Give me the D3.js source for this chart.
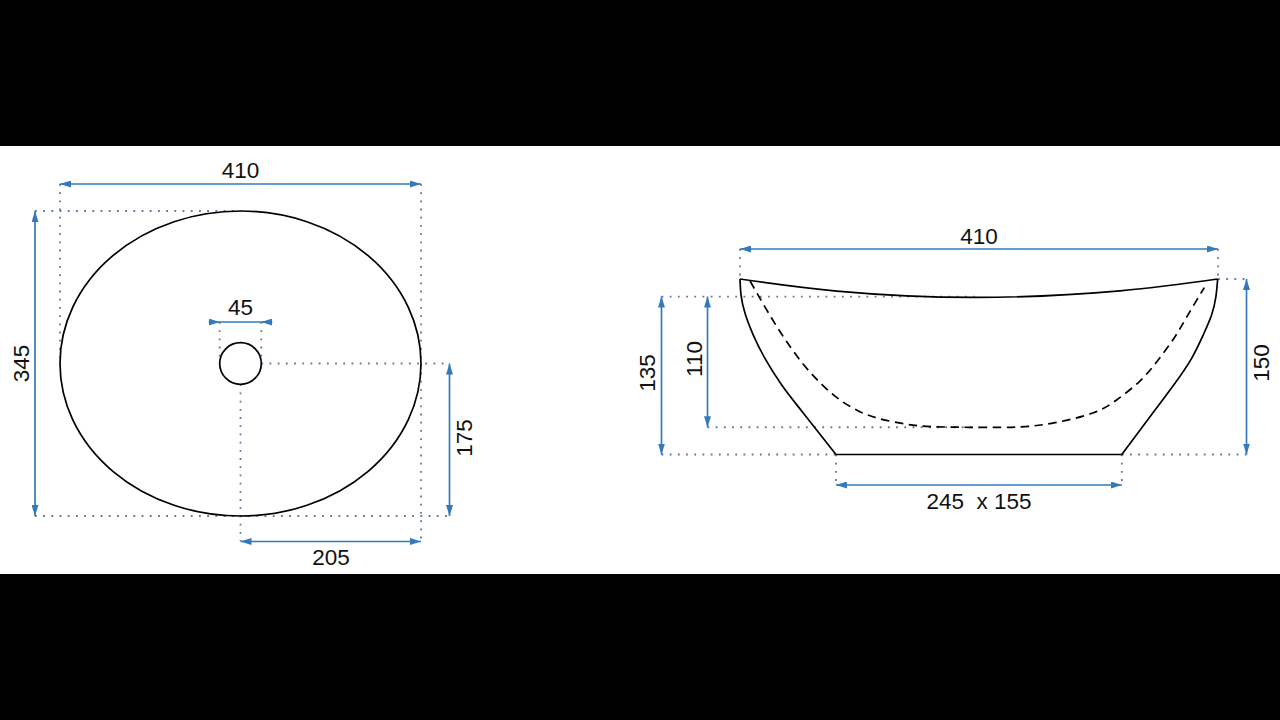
<!DOCTYPE html>
<html lang="en">
<head>
  <meta charset="UTF-8" />
  <title>Basin dimensions</title>
  <script src="https://cdnjs.cloudflare.com/ajax/libs/d3/7.9.0/d3.min.js"></script>
  <style>
    html, body { margin: 0; background: #000; }
    svg { display: block; }
    text { font-family: "Liberation Sans", Arial, sans-serif; font-size: 22.5px; fill: #111; white-space: pre; }
  </style>
</head>
<body>
  <div id="chart"></div>
  <script>
    // all sizes in mm
    const bowlWidth = 410;
    const bowlDepth = 345;
    const holeDiameter = 45;
    const holeFromRight = 205;
    const holeFromBottom = 172.5;
    const sideHeight = 150;
    const rimLow = 135;
    const innerBottom = 23.3;

    // side view profiles: x, height above the base
    const outerLeft = [[0, 150], [0.9, 136.3], [4.3, 120.7], [11.4, 102.1], [21.4, 82.2], [35.8, 59.4], [52.9, 37.2], [82.3, 0]];
    const outerRight = [[327.5, 0], [356, 38], [373.1, 60.9], [387.4, 82.2], [397.3, 102.1], [404.5, 119.2], [408.2, 134.9], [409.7, 150]];
    const rim = [[0, 150], [83, 139.7], [203, 134.3], [325.9, 139.9], [409.7, 150]];
    const base = [[82.3, 0], [327.5, 0]];
    const inner = [[8.6, 148.3], [27.2, 116.4], [40.1, 96.4], [54.3, 77.1], [70.1, 60], [85.8, 46.6], [102, 37], [118.6, 30.9],
      [141.5, 26.1], [164.4, 23.8], [201.5, 23.2], [238.7, 23.5], [270.2, 27.2], [302.7, 35.5], [323, 46.6], [343, 62.8],
      [358.7, 80.8], [373.1, 100.7], [384.5, 119.8], [398.2, 142.6]];

    const labelsTop = ["410", "345", "45", "175", "205"];
    const labelsSide = ["410", "135", "110", "150", "245  x 155"];

    const width = 1280, height = 720;
    const blue = "#3579bd", dots = "#5f7a9c";

    const svg = d3.select("#chart").append("svg").attr("width", width).attr("height", height);
    svg.append("rect").attr("y", 146).attr("width", width).attr("height", 428).attr("fill", "#fff");

    const defs = svg.append("defs");
    defs.append("marker").attr("id", "head").attr("viewBox", "0 0 11 7")
      .attr("refX", 11).attr("refY", 3.5)
      .attr("markerWidth", 11).attr("markerHeight", 7)
      .attr("markerUnits", "userSpaceOnUse").attr("orient", "auto-start-reverse")
      .append("path").attr("d", "M0,0L11,3.5L0,7Z").attr("fill", blue);

    const xTop = d3.scaleLinear().domain([0, bowlWidth]).range([60, 421]);
    const yTop = d3.scaleLinear().domain([0, bowlDepth]).range([516, 211]);
    const xSide = d3.scaleLinear().domain([0, bowlWidth]).range([740, 1218]);
    const ySide = d3.scaleLinear().domain([0, sideHeight]).range([454.5, 279]);

    const guides = svg.append("g");
    const shapes = svg.append("g").attr("fill", "none").attr("stroke", "#000").attr("stroke-width", 1.7);
    const dims = svg.append("g");

    function dotted(x1, y1, x2, y2) {
      guides.append("line")
        .attr("x1", x1).attr("y1", y1).attr("x2", x2).attr("y2", y2)
        .attr("stroke", dots).attr("stroke-width", 1.8)
        .attr("stroke-dasharray", "1.8 6.4");
    }

    function arrow(x1, y1, x2, y2) {
      dims.append("line")
        .attr("x1", x1).attr("y1", y1).attr("x2", x2).attr("y2", y2)
        .attr("stroke", blue).attr("stroke-width", 1.7)
        .attr("marker-start", "url(#head)").attr("marker-end", "url(#head)");
    }

    function inwardArrow(x1, x2, y) {
      dims.append("line")
        .attr("x1", x1).attr("y1", y).attr("x2", x2).attr("y2", y)
        .attr("stroke", blue).attr("stroke-width", 1.7)
        .attr("marker-end", "url(#head)");
    }

    function labelH(text, x, y) {
      dims.append("text").attr("x", x).attr("y", y).attr("text-anchor", "middle").text(text);
    }

    function labelV(text, x, y) {
      dims.append("text").attr("text-anchor", "middle")
        .attr("transform", `translate(${x},${y}) rotate(-90)`).text(text);
    }

    // top view
    const cx = xTop(bowlWidth - holeFromRight);
    const cy = yTop(holeFromBottom);
    const holeR = (xTop(holeDiameter) - xTop(0)) / 2 + 1;

    shapes.append("ellipse").attr("cx", cx).attr("cy", cy)
      .attr("rx", (xTop(bowlWidth) - xTop(0)) / 2)
      .attr("ry", (yTop(0) - yTop(bowlDepth)) / 2);
    shapes.append("circle").attr("cx", cx).attr("cy", cy).attr("r", holeR);

    dotted(xTop(0), 184, xTop(0), cy);
    dotted(xTop(bowlWidth), 184, xTop(bowlWidth), 541);
    dotted(35, yTop(bowlDepth), cx, yTop(bowlDepth));
    dotted(35, yTop(0), 449, yTop(0));
    dotted(cx - holeR, 322, cx - holeR, cy);
    dotted(cx + holeR, 322, cx + holeR, cy);
    dotted(cx + holeR, cy, 449, cy);
    dotted(cx, cy + holeR, cx, 541);

    arrow(xTop(0), 184, xTop(bowlWidth), 184);
    labelH(labelsTop[0], cx, 177.5);
    arrow(35, yTop(0), 35, yTop(bowlDepth));
    labelV(labelsTop[1], 28.5, cy);
    // the 45 arrow sits outside the hole and points inwards
    inwardArrow(cx - holeR - 11, cx - holeR, 322);
    inwardArrow(cx + holeR + 11, cx + holeR, 322);
    dims.append("line").attr("x1", cx - holeR).attr("y1", 322).attr("x2", cx + holeR).attr("y2", 322)
      .attr("stroke", blue).attr("stroke-width", 1.7);
    labelH(labelsTop[2], cx, 315);
    arrow(449.5, yTop(0), 449.5, cy);
    labelV(labelsTop[3], 471.5, 438);
    arrow(cx, 541.5, xTop(bowlWidth), 541.5);
    labelH(labelsTop[4], 331, 565);

    // side view
    const line = d3.line().x(d => xSide(d[0])).y(d => ySide(d[1])).curve(d3.curveNatural);
    [outerLeft, outerRight, rim].forEach(p => shapes.append("path").attr("d", line(p)));
    shapes.append("path").attr("d", d3.line().x(d => xSide(d[0])).y(d => ySide(d[1]))(base));
    shapes.append("path").attr("d", line(inner)).attr("stroke-dasharray", "8.5 5.5");

    const xMid = xSide(bowlWidth / 2);
    dotted(xSide(0), 249, xSide(0), ySide(sideHeight));
    dotted(xSide(bowlWidth), 249, xSide(bowlWidth), ySide(sideHeight));
    dotted(661.5, ySide(rimLow), xMid, ySide(rimLow));
    dotted(661.5, ySide(0), xSide(base[0][0]), ySide(0));
    dotted(707.5, ySide(innerBottom), xMid, ySide(innerBottom));
    dotted(xSide(bowlWidth), ySide(sideHeight), 1246.5, ySide(sideHeight));
    dotted(xSide(base[1][0]), ySide(0), 1246.5, ySide(0));
    dotted(xSide(base[0][0]), ySide(0), xSide(base[0][0]), 485);
    dotted(xSide(base[1][0]), ySide(0), xSide(base[1][0]), 485);

    arrow(xSide(0), 249, xSide(bowlWidth), 249);
    labelH(labelsSide[0], xMid, 243.5);
    arrow(661.5, ySide(0), 661.5, ySide(rimLow));
    labelV(labelsSide[1], 654.5, 373);
    arrow(707.5, ySide(innerBottom), 707.5, ySide(rimLow));
    labelV(labelsSide[2], 701.5, 359);
    arrow(1246.5, ySide(0), 1246.5, ySide(sideHeight));
    labelV(labelsSide[3], 1268.5, 363);
    arrow(xSide(base[0][0]), 485, xSide(base[1][0]), 485);
    labelH(labelsSide[4], xMid, 508.5);
  </script>
</body>
</html>
